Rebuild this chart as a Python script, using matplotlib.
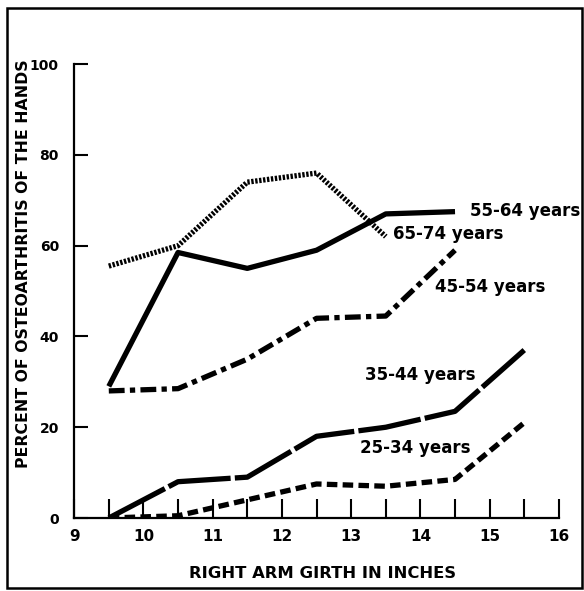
import matplotlib
matplotlib.use("Agg")
import matplotlib.pyplot as plt
from matplotlib.patches import Rectangle

girth = [9.5, 10.5, 11.5, 12.5, 13.5, 14.5, 15.5]
age_55_64 = [29, 58.5, 55, 59, 67, 67.5]
age_65_74 = [55.5, 60, 74, 76, 62]
age_45_54 = [28, 28.5, 35, 44, 44.5, 59]
age_35_44 = [0, 8, 9, 18, 20, 23.5, 37]
age_25_34 = [0, 0.5, 4, 7.5, 7, 8.5, 21]

x_ticks = [9, 10, 11, 12, 13, 14, 15, 16]
y_ticks = [0, 20, 40, 60, 80, 100]

fig = plt.figure(figsize=(5.84, 5.91), dpi=100)
ax = fig.add_axes([0.127, 0.1235, 0.83, 0.768])

lw = 3.8
ax.plot(girth[:6], age_55_64, color="black", lw=lw, solid_capstyle="butt")
ax.plot(girth[:5], age_65_74, color="black", lw=lw, dashes=(0.45, 0.3))
ax.plot(girth[:6], age_45_54, color="black", lw=lw, dashes=(3, 1, 1, 1))
ax.plot(girth, age_35_44, color="black", lw=lw, dashes=(12, 0.8))
ax.plot(girth, age_25_34, color="black", lw=lw, dashes=(2, 1))

fs = 12
ax.text(14.71, 67.6, "55-64 years", fontsize=fs, fontweight="bold", va="center", ha="left")
ax.text(13.6, 62.6, "65-74 years", fontsize=fs, fontweight="bold", va="center", ha="left")
ax.text(14.21, 50.9, "45-54 years", fontsize=fs, fontweight="bold", va="center", ha="left")
ax.text(13.2, 31.5, "35-44 years", fontsize=fs, fontweight="bold", va="center", ha="left")
ax.text(13.13, 15.4, "25-34 years", fontsize=fs, fontweight="bold", va="center", ha="left")

ax.set_xlim(9, 16)
ax.set_ylim(0, 100)
ax.set_xticks(x_ticks)
ax.set_xticks([v + 0.5 for v in x_ticks[:-1]], minor=True)
ax.set_yticks(y_ticks)
ax.tick_params(axis="x", which="both", direction="in", length=14, width=1.5, pad=8,
               labelsize=11)
ax.tick_params(axis="y", direction="in", length=10, width=1.5, pad=11, labelsize=10)
for lab in ax.get_xticklabels() + ax.get_yticklabels():
    lab.set_fontweight("bold")
ax.spines["top"].set_visible(False)
ax.spines["right"].set_visible(False)
ax.spines["left"].set_linewidth(1.6)
ax.spines["bottom"].set_linewidth(1.6)
ax.set_xlabel("RIGHT ARM GIRTH IN INCHES", fontsize=11.8, fontweight="bold")
ax.set_ylabel("PERCENT OF OSTEOARTHRITIS OF THE HANDS", fontsize=11.3, fontweight="bold")
ax.xaxis.set_label_coords(0.512, -0.106)
ax.yaxis.set_label_coords(-0.089, 0.56)

fig.patches.append(Rectangle((0.012, 0.005), 0.985, 0.982, transform=fig.transFigure,
                             fill=False, lw=1.8, color="black"))

fig.savefig("out.png", dpi=100)
